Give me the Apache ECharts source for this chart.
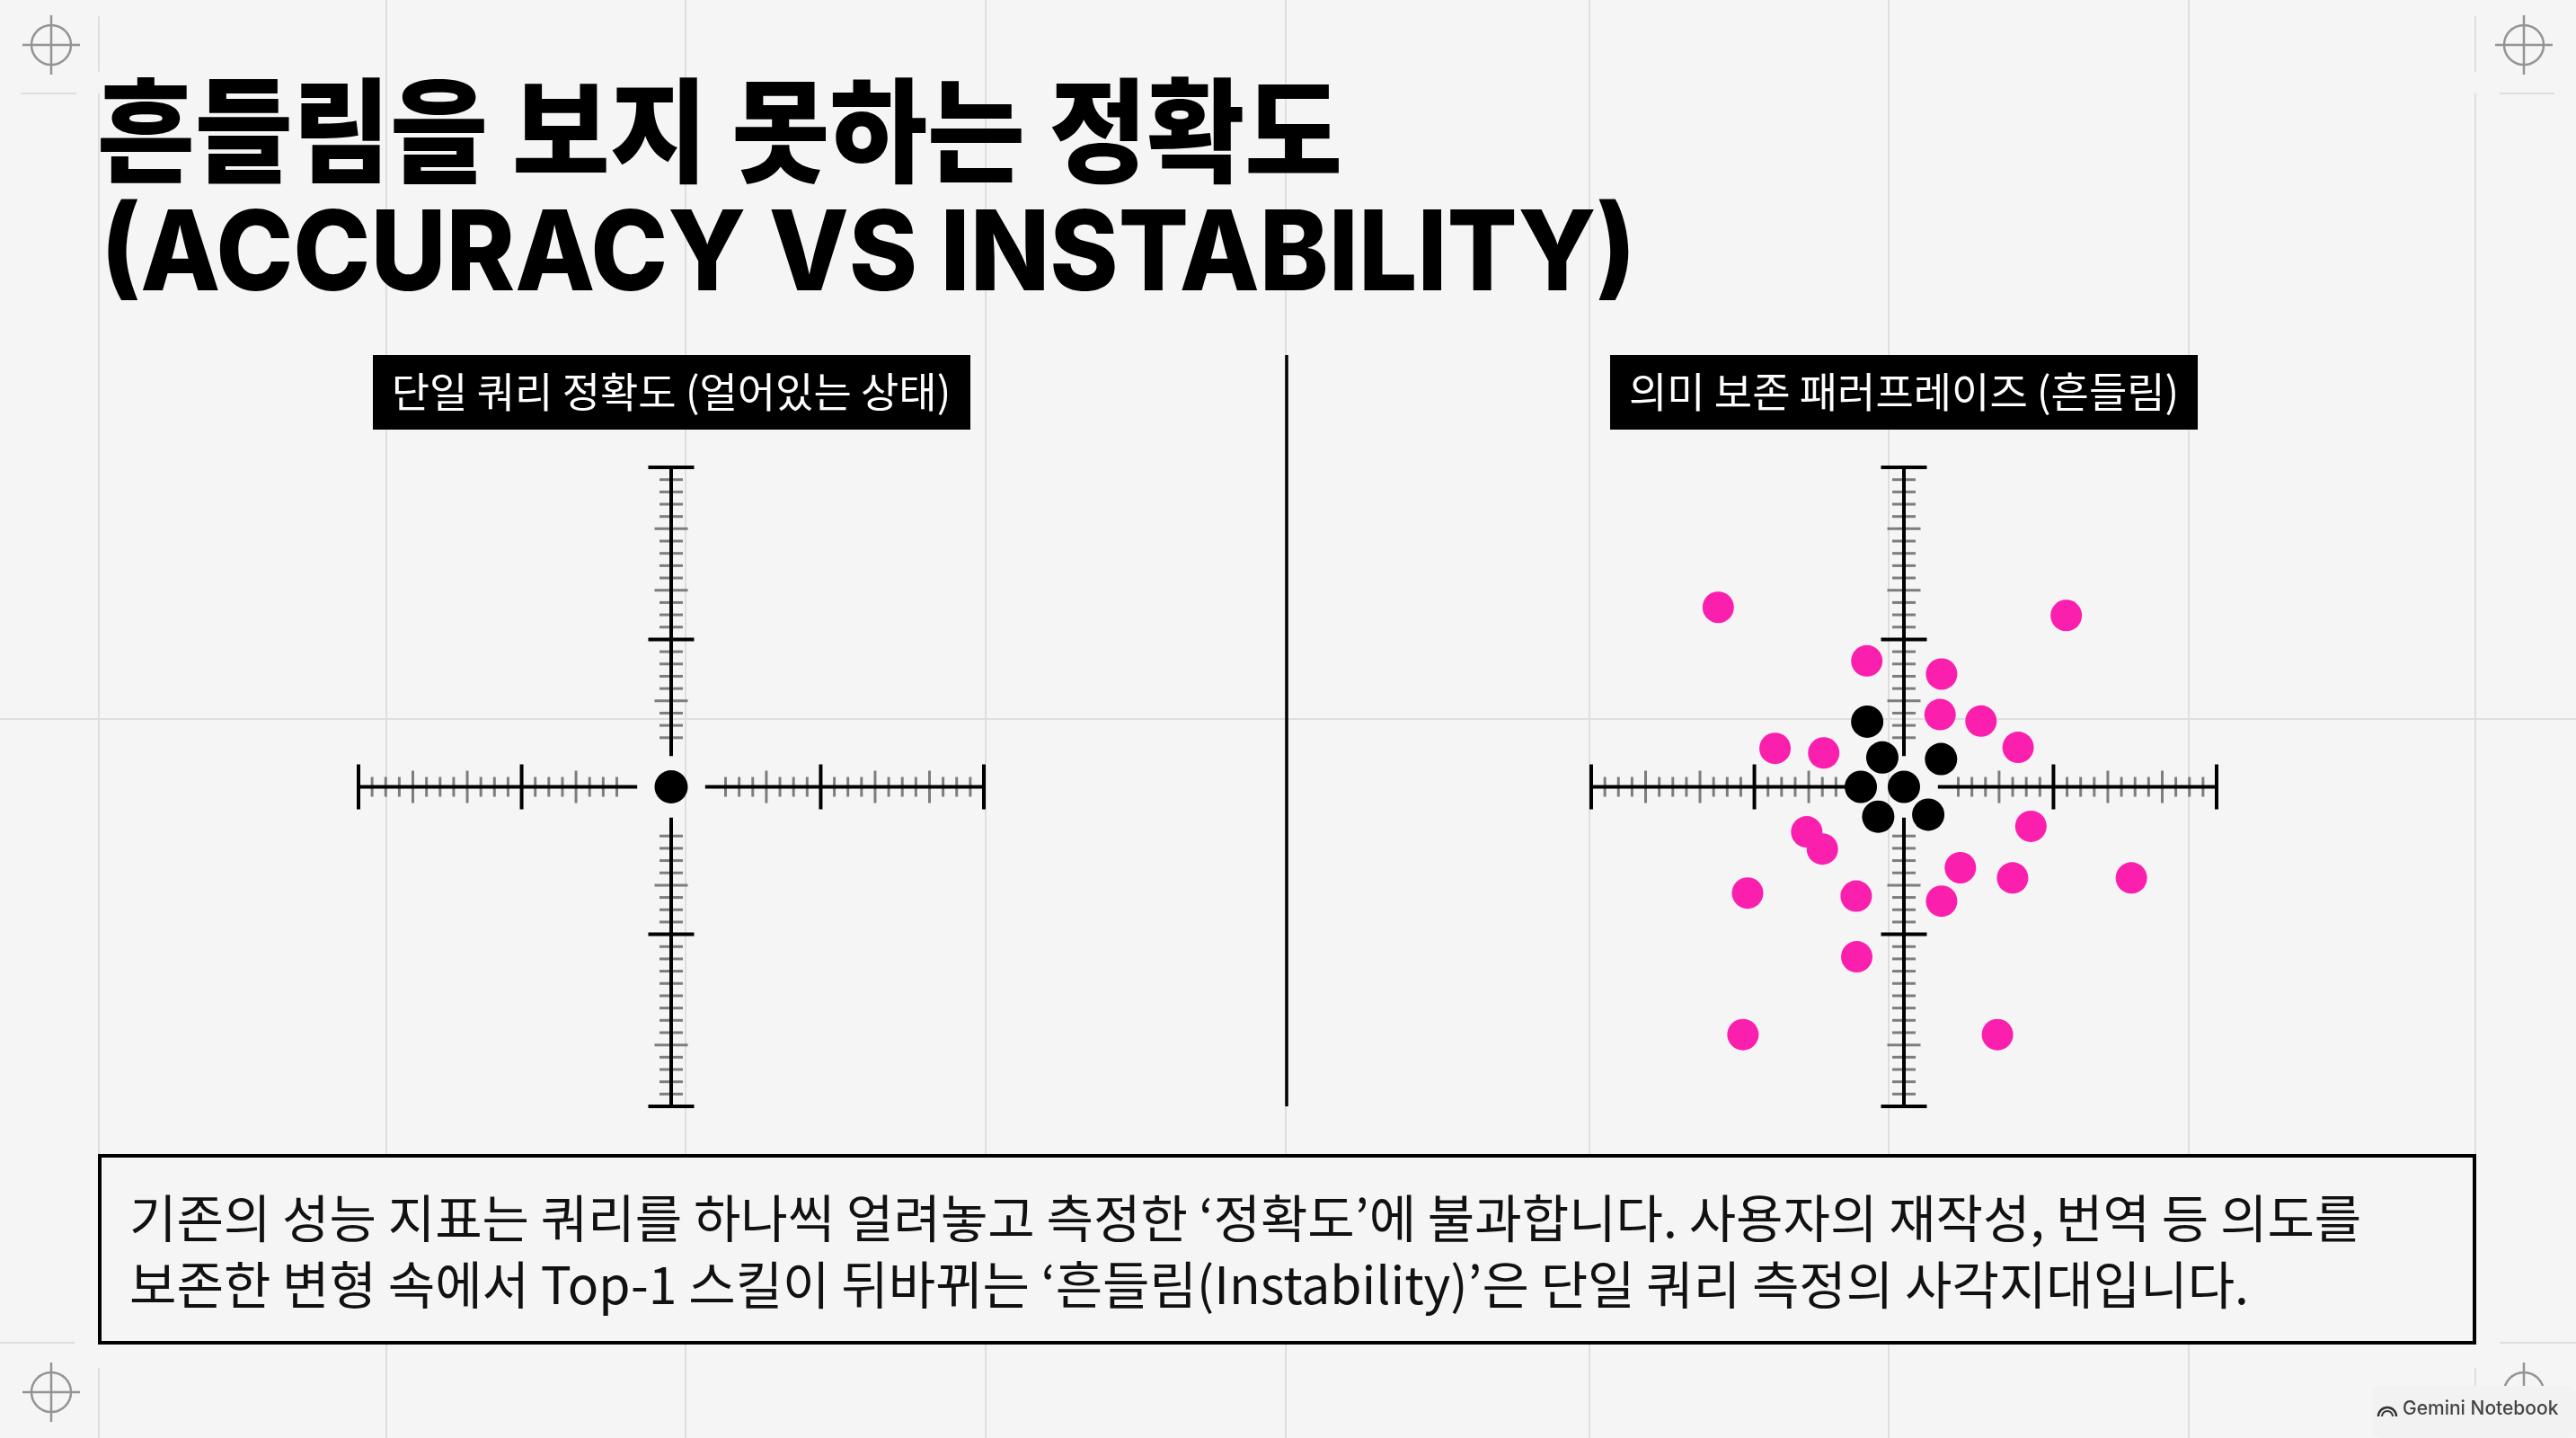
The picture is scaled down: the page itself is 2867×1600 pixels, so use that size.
<!DOCTYPE html>
<html>
<head>
<meta charset="utf-8">
<title>Accuracy vs Instability</title>
<style>html,body{margin:0;padding:0;background:#f5f5f5}#chart{width:2867px;height:1600px}</style>
<script src="https://cdn.jsdelivr.net/npm/echarts@6/dist/echarts.min.js"></script>
</head>
<body>
<div id="chart"></div>
<script>
const titleLines = ['흔들림을 보지 못하는 정확도', '(ACCURACY VS INSTABILITY)']
const panelLabels = ['단일 쿼리 정확도 (얼어있는 상태)', '의미 보존 패러프레이즈 (흔들림)']
const bodyLines = [
    '기존의 성능 지표는 쿼리를 하나씩 얼려놓고 측정한 ‘정확도’에 불과합니다. 사용자의 재작성, 번역 등 의도를',
    '보존한 변형 속에서 Top-1 스킬이 뒤바뀌는 ‘흔들림(Instability)’은 단일 쿼리 측정의 사각지대입니다.'
]
const watermark = 'Gemini Notebook'

// ruler ticks, in axis units from the centre
const xMajor = [-23, -11, 11, 23]
const xMid = [-19, -15, -7, 7, 15, 19]
const xMinor = [-22, -21, -20, -18, -17, -16, -14, -13, -12, -10, -9, -8, -6, -5, -4, 4, 5, 6, 8, 9, 10, 12, 13, 14, 16, 17, 18, 20, 21, 22]
const yMajor = [-26, -12, 12, 26]
const yMid = [-21, -8, 7, 16, 21]
const yMinor = [-25, -24, -23, -22, -20, -19, -18, -17, -16, -15, -14, -13, -11, -10, -9, -7, -6, -5, -4, 4, 5, 6, 8, 9, 10, 11, 13, 14, 15, 17, 18, 19, 20, 22, 23, 24, 25]
const axisGap = 2.5

const frozenPoints = [[0, 0]]
const paraphrasePoints = [
    [-13.66, 14.61], [11.94, 13.95], [-2.73, 10.25], [2.77, 9.18], [2.66, 5.88], [5.67, 5.35], [8.4, 3.21],
    [-9.48, 3.13], [-5.9, 2.76], [9.34, -3.21], [-7.15, -3.66], [-6, -5.06], [4.15, -6.58], [7.99, -7.41],
    [16.73, -7.41], [-11.5, -8.64], [-3.51, -8.89], [2.77, -9.3], [-3.47, -13.83], [-11.84, -20.16], [6.88, -20.16]
]
const clusterPoints = [[-2.7, 5.31], [-1.59, 2.39], [2.73, 2.26], [-3.17, 0], [0, 0], [-1.89, -2.43], [1.79, -2.26]]

const BG = '#f5f5f5', INK = '#000000', TICK = '#7d7d7d', PINK = '#fb1fae', FRAME = '#dedede', MARK = '#949494'
const FONT = '"Noto Sans CJK KR", sans-serif'

function scatter(gridIndex, data, color, size) {
    return { type: 'scatter', xAxisIndex: gridIndex, yAxisIndex: gridIndex, data: data, symbol: 'circle', symbolSize: size,
        itemStyle: { color: color, opacity: 1 }, clip: false, silent: true }
}
function ticks(gridIndex, values, horizontal, color, size) {
    return { type: 'scatter', xAxisIndex: gridIndex, yAxisIndex: gridIndex, symbol: 'rect', symbolSize: size,
        data: values.map(v => horizontal ? [v, 0] : [0, v]), itemStyle: { color: color, opacity: 1 }, clip: false, silent: true }
}
function segment(gridIndex, a, b) {
    return { type: 'line', xAxisIndex: gridIndex, yAxisIndex: gridIndex, data: [a, b], symbol: 'none', clip: false, silent: true,
        lineStyle: { color: INK, width: 4, cap: 'butt' } }
}
function ruler(g) {
    return [
        ticks(g, xMinor, true, TICK, [3, 22]),
        ticks(g, xMid, true, TICK, [3, 36]),
        ticks(g, yMinor, false, TICK, [26, 3]),
        ticks(g, yMid, false, TICK, [37, 3]),
        segment(g, [xMajor[0], 0], [-axisGap, 0]),
        segment(g, [axisGap, 0], [xMajor[3], 0]),
        segment(g, [0, yMajor[0]], [0, -axisGap]),
        segment(g, [0, axisGap], [0, yMajor[3]]),
        ticks(g, xMajor, true, INK, [4, 50]),
        ticks(g, yMajor, false, INK, [51, 4])
    ]
}

function vLine(x, y1, y2, color, width) {
    return { type: 'line', silent: true, z: 0, shape: { x1: x, y1: y1, x2: x, y2: y2 }, style: { stroke: color || FRAME, lineWidth: width || 2 } }
}
function hLine(y, x1, x2, color, width) {
    return { type: 'line', silent: true, z: 0, shape: { x1: x1, y1: y, x2: x2, y2: y }, style: { stroke: color || FRAME, lineWidth: width || 2 } }
}
function crosshair(cx, cy) {
    return [
        { type: 'circle', silent: true, z: 0, shape: { cx: cx, cy: cy, r: 22 }, style: { fill: 'none', stroke: MARK, lineWidth: 2.5 } },
        vLine(cx, cy - 33, cy + 33, MARK, 2.5),
        hLine(cy, cx - 32, cx + 32, MARK, 2.5)
    ]
}
// canvas text has no letter spacing here, so the tight headline is narrowed with scaleX
function headline(text, x, y, family, size, weight, sx) {
    return { type: 'text', silent: true, z: 5, x: x, y: y, scaleX: sx,
        style: { text: text, fontFamily: family, fontSize: size, fontWeight: weight, fill: INK, textVerticalAlign: 'top' } }
}

const decor = []
;[430, 763, 1097, 1431, 1769, 2102, 2436].forEach(x => decor.push(vLine(x, 0, 1600)))
decor.push(vLine(110, 18, 80), vLine(110, 104, 1494), vLine(110, 1522, 1600))
decor.push(vLine(2755, 18, 80), vLine(2755, 104, 1494), vLine(2755, 1522, 1600))
decor.push(hLine(800, 0, 2867))
decor.push(hLine(104, 23, 85), hLine(104, 2782, 2843), hLine(1494, 0, 83), hLine(1494, 2782, 2867))
decor.push(...crosshair(57, 50), ...crosshair(2809, 50), ...crosshair(57, 1549), ...crosshair(2809, 1549))

// label boxes, divider, bottom box
decor.push(
    { type: 'rect', silent: true, z: 1, shape: { x: 415, y: 395, width: 665, height: 83 }, style: { fill: INK } },
    { type: 'rect', silent: true, z: 1, shape: { x: 1792, y: 395, width: 654, height: 83 }, style: { fill: INK } },
    vLine(1432, 395, 1231, INK, 3.5),
    { type: 'rect', silent: true, z: 1, shape: { x: 111, y: 1286, width: 2643, height: 208 }, style: { fill: BG, stroke: INK, lineWidth: 4 } }
)
// watermark patch and icon
decor.push(
    { type: 'rect', silent: true, z: 2, shape: { x: 2640, y: 1542, width: 227, height: 58, r: 10 }, style: { fill: '#f2f2f2' } },
    { type: 'arc', silent: true, z: 3, shape: { cx: 2657, cy: 1576, r: 10, startAngle: Math.PI, endAngle: 0 }, style: { fill: 'none', stroke: '#333', lineWidth: 2.5 } },
    { type: 'arc', silent: true, z: 3, shape: { cx: 2657, cy: 1576, r: 6, startAngle: Math.PI, endAngle: 0 }, style: { fill: 'none', stroke: '#333', lineWidth: 2 } }
)
decor.push(
    headline(titleLines[0], 108, 82, FONT, 126, 900, 0.938),
    headline(titleLines[1], 112, 224, 'Inter, ' + FONT, 124, 800, 0.934)
)

const chart = echarts.init(document.getElementById('chart'), null, { renderer: 'canvas' })
chart.setOption({
    animation: false,
    backgroundColor: BG,
    tooltip: { show: false },
    graphic: decor,
    title: [
        { text: panelLabels[0], left: 747, top: 413, textAlign: 'center', z: 5, padding: 0, textStyle: { fontFamily: FONT, fontSize: 46, fontWeight: 400, color: '#ffffff' } },
        { text: panelLabels[1], left: 2119, top: 413, textAlign: 'center', z: 5, padding: 0, textStyle: { fontFamily: FONT, fontSize: 46, fontWeight: 400, color: '#ffffff' } },
        { text: bodyLines[0], left: 144, top: 1327, z: 5, padding: 0, textStyle: { fontFamily: FONT, fontSize: 57, fontWeight: 400, color: '#111111' } },
        { text: bodyLines[1], left: 144, top: 1401, z: 5, padding: 0, textStyle: { fontFamily: FONT, fontSize: 57, fontWeight: 400, color: '#111111' } },
        { text: watermark, left: 2674, top: 1557, z: 5, padding: 0, textStyle: { fontFamily: 'Inter, sans-serif', fontSize: 21, fontWeight: 500, color: '#444444' } }
    ],
    grid: [
        { left: 399, width: 696, top: 520, height: 711 },
        { left: 1771, width: 696, top: 520, height: 711 }
    ],
    xAxis: [0, 1].map(g => ({ type: 'value', gridIndex: g, min: -23, max: 23, show: false })),
    yAxis: [0, 1].map(g => ({ type: 'value', gridIndex: g, min: -26, max: 26, show: false })),
    series: [
        ...ruler(0),
        scatter(0, frozenPoints, INK, 37),
        ...ruler(1),
        scatter(1, paraphrasePoints, PINK, 35),
        scatter(1, clusterPoints, INK, 36)
    ]
})
</script>
</body>
</html>
